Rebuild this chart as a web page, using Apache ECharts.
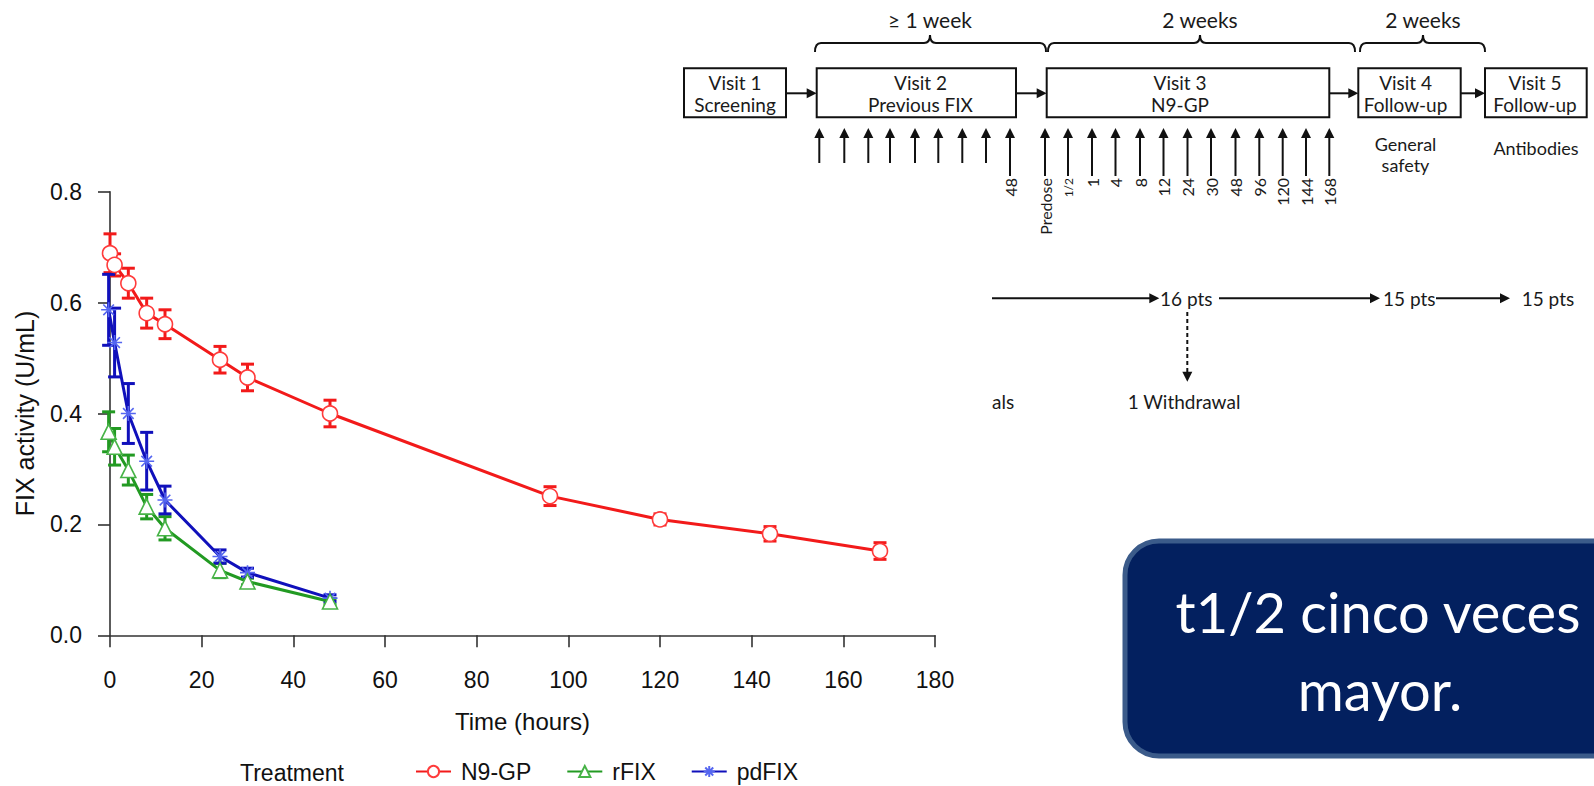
<!DOCTYPE html>
<html>
<head>
<meta charset="utf-8">
<script src="https://cdn.jsdelivr.net/npm/echarts@6/dist/echarts.min.js"></script>
<style>
html,body{margin:0;padding:0;background:#fff;}
#main{width:1594px;height:786px;}
</style>
</head>
<body>
<div id="main"></div>
<script>
// ---- chart data ----
const seriesNames = ['N9-GP', 'rFIX', 'pdFIX'];
const xTicks = [0, 20, 40, 60, 80, 100, 120, 140, 160, 180];
const yTicks = [0.0, 0.2, 0.4, 0.6, 0.8];

const timeN9 = [0, 1, 4, 8, 12, 24, 30, 48, 96, 120, 144, 168];
const meanN9 = [0.689, 0.668, 0.635, 0.581, 0.561, 0.497, 0.465, 0.400, 0.251, 0.209, 0.183, 0.152];
const errN9  = [0.035, 0.020, 0.027, 0.027, 0.026, 0.024, 0.024, 0.024, 0.017, 0.010, 0.013, 0.015];

const timeR = [-0.3, 1, 4, 8, 12, 24, 30, 48];
const meanR = [0.367, 0.340, 0.298, 0.232, 0.193, 0.117, 0.097, 0.061];
const errR  = [0.036, 0.033, 0.027, 0.022, 0.021, 0.013, 0.006, 0.005];

const timePd = [-0.3, 1, 4, 8, 12, 24, 30, 48];
const meanPd = [0.587, 0.528, 0.400, 0.314, 0.244, 0.142, 0.113, 0.067];
const errPd  = [0.064, 0.062, 0.054, 0.052, 0.025, 0.012, 0.008, 0.006];

// ---- diagram texts ----
const braceLabels = ['\u2265 1 week', '2 weeks', '2 weeks'];
const visitLine1 = ['Visit 1', 'Visit 2', 'Visit 3', 'Visit 4', 'Visit 5'];
const visitLine2 = ['Screening', 'Previous FIX', 'N9-GP', 'Follow-up', 'Follow-up'];
const v3Labels = ['Predose', '1/2', '1', '4', '8', '12', '24', '30', '48', '96', '120', '144', '168'];
const flowLabels = ['16 pts', '15 pts', '15 pts'];
const calloutLines = ['t1/2 cinco veces', 'mayor.'];

const colors = {
  N9: {line: '#f21a1a', mark: '#ff3b3b'},
  R:  {line: '#229a22', mark: '#47b347'},
  Pd: {line: '#1010bb', mark: '#5566f0'}
};

const asterisk = 'path://M5 0L5 10M0 5L10 5M1.46 1.46L8.54 8.54M1.46 8.54L8.54 1.46';

function pairs(t, m) { return t.map((v, i) => [v, m[i]]); }
function errs(t, m, e) { return t.map((v, i) => [v, m[i] - e[i], m[i] + e[i]]); }

function errRenderer(color) {
  return function (params, api) {
    const x = api.value(0);
    const lo = api.coord([x, api.value(1)]);
    const hi = api.coord([x, api.value(2)]);
    const hw = 6.5;
    const st = {stroke: color, lineWidth: 3, fill: 'none'};
    return {
      type: 'group',
      children: [
        {type: 'line', shape: {x1: lo[0], y1: lo[1], x2: hi[0], y2: hi[1]}, style: st},
        {type: 'line', shape: {x1: lo[0] - hw, y1: lo[1], x2: lo[0] + hw, y2: lo[1]}, style: st},
        {type: 'line', shape: {x1: hi[0] - hw, y1: hi[1], x2: hi[0] + hw, y2: hi[1]}, style: st}
      ]
    };
  };
}

// ---- diagram graphics ----
const DF = 'Lato, "Open Sans", sans-serif';
const G = [];
function txt(x, y, s, size, opt) {
  opt = opt || {};
  G.push(Object.assign({
    type: 'text', x: x, y: y, z: 10,
    style: {text: s, fontSize: size, fontFamily: DF, fill: opt.fill || '#1a1a1a',
            align: opt.align || 'center', verticalAlign: opt.va || 'middle'}
  }, opt.extra || {}));
}
function seg(x1, y1, x2, y2, w, dash) {
  const st = {stroke: '#111', lineWidth: w || 2};
  if (dash) st.lineDash = dash;
  G.push({type: 'line', z: 10, shape: {x1: x1, y1: y1, x2: x2, y2: y2}, style: st});
}
function curve(x1, y1, cx, cy, x2, y2) {
  G.push({type: 'bezierCurve', z: 10, shape: {x1: x1, y1: y1, cpx1: cx, cpy1: cy, x2: x2, y2: y2},
          style: {stroke: '#111', lineWidth: 2, fill: null}});
}
function head(x, y, dir) { // tip at x,y
  let pts;
  const L = 10, W = 5;
  if (dir === 'right') pts = [[x, y], [x - L, y - W], [x - L, y + W]];
  else if (dir === 'up') pts = [[x, y], [x - W, y + L], [x + W, y + L]];
  else pts = [[x, y], [x - W, y - L], [x + W, y - L]];
  G.push({type: 'polygon', z: 10, shape: {points: pts}, style: {fill: '#111'}});
}
function brace(x1, c, x2, label) {
  const yb = 43, ye = 52, yt = 35;
  curve(x1, ye, x1, yb, x1 + 6, yb);
  seg(x1 + 6, yb, c - 6, yb, 2);
  curve(c - 6, yb, c, yb, c, yt);
  curve(c, yt, c, yb, c + 6, yb);
  seg(c + 6, yb, x2 - 6, yb, 2);
  curve(x2 - 6, yb, x2, yb, x2, ye);
  txt(c, 19, label, 21);
}
brace(815, 930, 1046, braceLabels[0]);
brace(1048, 1200, 1355, braceLabels[1]);
brace(1360, 1423, 1485, braceLabels[2]);

const boxes = [
  {x: 684, w: 102, cx: 735},
  {x: 816.7, w: 199.3, cx: 920.5},
  {x: 1046.7, w: 282.6, cx: 1180},
  {x: 1358.3, w: 102.4, cx: 1405.6},
  {x: 1485, w: 101.7, cx: 1535}
];
boxes.forEach((b, i) => {
  G.push({type: 'rect', z: 10, shape: {x: b.x, y: 68.3, width: b.w, height: 49},
          style: {fill: '#fff', stroke: '#111', lineWidth: 2}});
  txt(b.cx, 82.5, visitLine1[i], 19);
  txt(b.cx, 104, visitLine2[i], 19);
  if (i < boxes.length - 1) {
    const nx = boxes[i + 1].x;
    seg(b.x + b.w, 93.3, nx - 8, 93.3, 2);
    head(nx, 93.3, 'right');
  }
});
txt(1405.5, 143.5, 'General', 18);
txt(1405.5, 165, 'safety', 18);
txt(1536, 148, 'Antibodies', 18);

// Visit 2 sampling arrows (lower part hidden behind the plot)
const v2X = [819.3, 844.3, 868.3, 890, 915, 938.3, 962.3, 986, 1010];
v2X.forEach((x, i) => {
  const bottom = i === v2X.length - 1 ? 176 : 163;
  seg(x, 136, x, bottom, 2);
  head(x, 128, 'up');
});
txt(1010, 178, '48', 16, {align: 'right', extra: {rotation: Math.PI / 2}});
// Visit 3 sampling arrows
const v3X = [1045, 1068, 1092, 1115.5, 1140, 1163.5, 1187.5, 1211, 1235.5, 1259.3, 1282.7, 1306, 1329.3];
v3X.forEach((x, i) => {
  seg(x, 136, x, 176, 2);
  head(x, 128, 'up');
  txt(x, 178, v3Labels[i], v3Labels[i] === '1/2' ? 12 : 16, {align: 'right', extra: {rotation: Math.PI / 2}});
});

// patient flow row
seg(992, 298.3, 1150, 298.3, 2); head(1159.3, 298.3, 'right');
txt(1160, 298.3, flowLabels[0], 19, {align: 'left'});
seg(1219, 298.3, 1371, 298.3, 2); head(1380, 298.3, 'right');
txt(1383, 298.3, flowLabels[1], 19, {align: 'left'});
seg(1436, 298.3, 1501, 298.3, 2); head(1510, 298.3, 'right');
txt(1521.7, 298.3, flowLabels[2], 19, {align: 'left'});
seg(1187.3, 312, 1187.3, 372, 2, [4, 3]); head(1187.3, 381.7, 'down');
txt(1184, 401.7, '1 Withdrawal', 19);
txt(992, 401.7, 'als', 19, {align: 'left'});

// callout box
G.push({type: 'rect', z: 10, shape: {x: 1125, y: 541, width: 520, height: 215, r: 34},
        style: {fill: '#03205f', stroke: '#3b5b8a', lineWidth: 5}});
txt(1378, 611, calloutLines[0], 56, {fill: '#ffffff'});
txt(1380, 689, calloutLines[1], 56, {fill: '#ffffff'});

// legend title
G.push({type: 'text', x: 240, y: 773, z: 10,
        style: {text: 'Treatment', fontSize: 23, fontFamily: '"Liberation Sans", Arial, sans-serif',
                fill: '#111', align: 'left', verticalAlign: 'middle'}});

const CF = '"Liberation Sans", Arial, sans-serif';
const chart = echarts.init(document.getElementById('main'), null, {renderer: 'svg'});
chart.setOption({
  animation: false,
  backgroundColor: '#fff',
  grid: {left: 110, right: 659, top: 191.7, bottom: 150.7, containLabel: false},
  xAxis: {
    type: 'value', min: xTicks[0], max: xTicks[xTicks.length - 1], interval: 20,
    offset: 11,
    name: 'Time (hours)', nameLocation: 'middle', nameGap: 63,
    nameTextStyle: {fontSize: 24, fontFamily: CF, color: '#111'},
    axisLine: {lineStyle: {color: '#333', width: 1.6}},
    axisTick: {length: 12, lineStyle: {color: '#333', width: 1.6}},
    axisLabel: {fontSize: 23, fontFamily: CF, color: '#111', margin: 22},
    splitLine: {show: false}
  },
  yAxis: {
    type: 'value', min: yTicks[0], max: yTicks[yTicks.length - 1], interval: 0.2,
    offset: 10,
    name: 'FIX activity (U/mL)', nameLocation: 'middle', nameGap: 63,
    nameTextStyle: {fontSize: 25, fontFamily: CF, color: '#111'},
    axisLine: {show: true, lineStyle: {color: '#333', width: 1.6}},
    axisTick: {show: true, length: 12, lineStyle: {color: '#333', width: 1.6}},
    axisLabel: {fontSize: 23, fontFamily: CF, color: '#111', margin: 18,
                formatter: v => v.toFixed(1)},
    splitLine: {show: false}
  },
  legend: {
    data: seriesNames, left: 415, top: 760, padding: 0, itemWidth: 35, itemHeight: 14, itemGap: 35,
    textStyle: {fontSize: 23, fontFamily: CF, color: '#111', padding: [0, 0, 0, 5]},
    selectedMode: false
  },
  graphic: {elements: G},
  series: [
    {name: 'N9-GP err', type: 'custom', z: 2, clip: false, renderItem: errRenderer(colors.N9.line),
     data: errs(timeN9, meanN9, errN9), encode: {x: 0, y: [1, 2]}},
    {name: 'rFIX err', type: 'custom', z: 2, clip: false, renderItem: errRenderer(colors.R.line),
     data: errs(timeR, meanR, errR), encode: {x: 0, y: [1, 2]}},
    {name: 'pdFIX err', type: 'custom', z: 2, clip: false, renderItem: errRenderer(colors.Pd.line),
     data: errs(timePd, meanPd, errPd), encode: {x: 0, y: [1, 2]}},
    {name: seriesNames[2], type: 'line', z: 3, clip: false, data: pairs(timePd, meanPd),
     symbol: asterisk, symbolSize: 15, showAllSymbol: true,
     lineStyle: {color: colors.Pd.line, width: 3},
     itemStyle: {color: 'rgba(0,0,0,0)', borderColor: colors.Pd.mark, borderWidth: 1.6}},
    {name: seriesNames[1], type: 'line', z: 3, clip: false, data: pairs(timeR, meanR),
     symbol: 'triangle', symbolSize: 15, showAllSymbol: true,
     lineStyle: {color: colors.R.line, width: 3},
     itemStyle: {color: '#fff', borderColor: colors.R.mark, borderWidth: 1.6}},
    {name: seriesNames[0], type: 'line', z: 3, clip: false, data: pairs(timeN9, meanN9),
     symbol: 'circle', symbolSize: 15, showAllSymbol: true,
     lineStyle: {color: colors.N9.line, width: 3},
     itemStyle: {color: '#fff', borderColor: colors.N9.mark, borderWidth: 1.6}}
  ]
});
</script>
</body>
</html>
